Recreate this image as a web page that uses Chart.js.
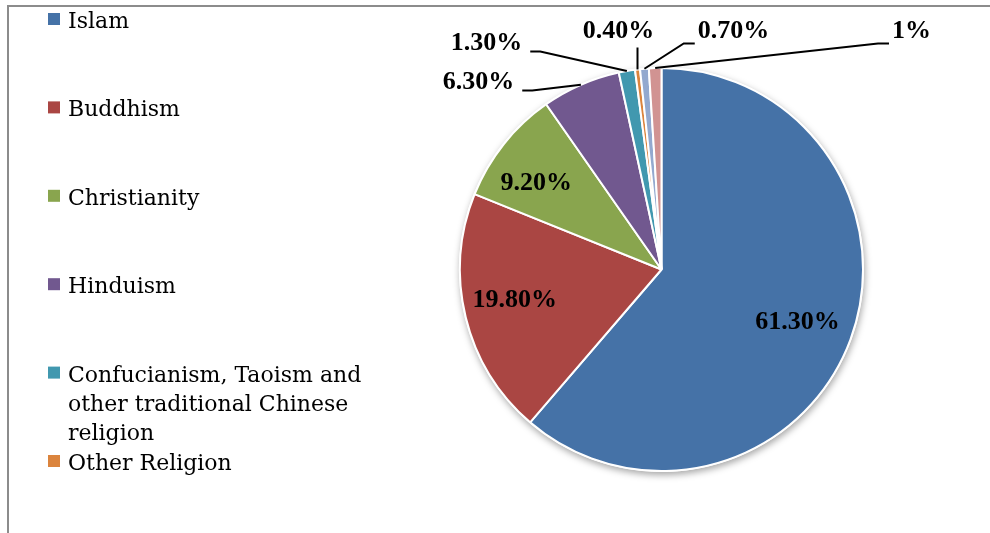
<!DOCTYPE html>
<html lang="en">
<head>
  <meta charset="UTF-8">
  <title>Religions</title>
  <script src="https://cdn.jsdelivr.net/npm/chart.js@4.4.0/dist/chart.umd.min.js"></script>
  <style>
    html, body {
      margin: 0;
      padding: 0;
      background: #fff;
      overflow: hidden;
    }
    #religionChart {
      display: block;
    }
  </style>
</head>
<body>
  <canvas id="religionChart" width="990" height="533"></canvas>

  <script>
    // Share of population by religion (%)
    const categories = [
      'Islam',
      'Buddhism',
      'Christianity',
      'Hinduism',
      ['Confucianism, Taoism and', 'other traditional Chinese', 'religion'],
      'Other Religion',
      'No Religion',
      'Unknown'
    ];
    const shares = [61.3, 19.8, 9.2, 6.3, 1.3, 0.4, 0.7, 1];
    const colors = [
      '#4572A7', '#AA4643', '#89A54E', '#71588F',
      '#4198AF', '#DB843D', '#93A9CF', '#D19392'
    ];

    // Inside labels sit along the slice's mid angle; small ones go outside with a leader line
    const insideRadius = [0.72, 0.75, 0.75];
    const insideNudge = [[0, 2], [0, -5], [-7, 8]];
    // outside label centres relative to the pie centre
    const outsideLabels = [
      null, null, null,
      [-183, -187],
      [-175, -226],
      [-43, -238],
      [72, -238],
      [250, -238]
    ];

    const fmt = v => Number.isInteger(v) ? v + '%' : v.toFixed(2) + '%';

    const frame = {
      id: 'frame',
      beforeDraw(chart) {
        const ctx = chart.ctx;
        ctx.save();
        ctx.strokeStyle = '#8c8c8c';
        ctx.lineWidth = 2;
        ctx.beginPath();
        ctx.moveTo(8, chart.height + 5);
        ctx.lineTo(8, 6);
        ctx.lineTo(chart.width + 5, 6);
        ctx.stroke();
        ctx.restore();
      }
    };

    const pieShadow = {
      id: 'pieShadow',
      beforeDatasetsDraw(chart) {
        const arc = chart.getDatasetMeta(0).data[0];
        if (!arc) return;
        const ctx = chart.ctx;
        ctx.save();
        ctx.shadowColor = 'rgba(0,0,0,0.35)';
        ctx.shadowBlur = 7;
        ctx.shadowOffsetX = 1;
        ctx.shadowOffsetY = 3;
        ctx.fillStyle = '#fff';
        ctx.beginPath();
        ctx.arc(arc.x, arc.y, arc.outerRadius + 1, 0, Math.PI * 2);
        ctx.fill();
        ctx.restore();
      }
    };

    const sliceLabels = {
      id: 'sliceLabels',
      afterDatasetsDraw(chart) {
        const ctx = chart.ctx;
        const arcs = chart.getDatasetMeta(0).data;
        ctx.save();
        ctx.font = 'bold 26px "Liberation Serif", "Times New Roman", serif';
        ctx.fillStyle = '#000';
        ctx.strokeStyle = '#000';
        ctx.lineWidth = 2;
        ctx.textBaseline = 'middle';
        ctx.textAlign = 'center';
        arcs.forEach((arc, i) => {
          const text = fmt(shares[i]);
          const mid = (arc.startAngle + arc.endAngle) / 2;
          const r = arc.outerRadius;
          if (!outsideLabels[i]) {
            const f = insideRadius[i];
            const [nx, ny] = insideNudge[i];
            ctx.fillText(text, arc.x + Math.cos(mid) * r * f + nx, arc.y + Math.sin(mid) * r * f + ny);
            return;
          }
          const lx = arc.x + outsideLabels[i][0];
          const ly = arc.y + outsideLabels[i][1];
          ctx.fillText(text, lx, ly);
          const w = ctx.measureText(text).width;
          const tx = arc.x + Math.cos(mid) * r;
          const ty = arc.y + Math.sin(mid) * r;
          ctx.beginPath();
          if (Math.abs(tx - lx) < 30) {
            ctx.moveTo(tx, ly + 16);
            ctx.lineTo(tx, ty);
          } else if (tx > lx) {
            const sx = lx + w / 2 + 8;
            ctx.moveTo(sx, ly + 8);
            ctx.lineTo(sx + 10, ly + 8);
            ctx.lineTo(tx, ty);
          } else {
            const sx = lx - w / 2 - 3;
            ctx.moveTo(sx, ly + 12);
            ctx.lineTo(sx - 11, ly + 12);
            ctx.lineTo(tx, ty);
          }
          ctx.stroke();
        });
        ctx.restore();
      }
    };

    // Legend column on the left; the list runs past the bottom edge
    const sideLegend = {
      id: 'sideLegend',
      afterDraw(chart) {
        const ctx = chart.ctx;
        ctx.save();
        ctx.font = '22px "DejaVu Serif", serif';
        ctx.textBaseline = 'alphabetic';
        ctx.textAlign = 'left';
        categories.forEach((label, i) => {
          const base = 28 + i * 88.4;
          ctx.fillStyle = colors[i];
          ctx.fillRect(48, base - 15, 12, 12);
          ctx.fillStyle = '#000';
          const lines = Array.isArray(label) ? label : [label];
          lines.forEach((line, k) => ctx.fillText(line, 68, base + k * 29));
        });
        ctx.restore();
      }
    };

    new Chart(document.getElementById('religionChart'), {
      type: 'pie',
      data: {
        labels: categories,
        datasets: [{
          data: shares,
          backgroundColor: colors,
          borderColor: '#fff',
          borderWidth: 2
        }]
      },
      options: {
        responsive: false,
        animation: false,
        events: [],
        layout: {
          padding: { left: 459, top: 67, right: 126, bottom: 61 }
        },
        plugins: {
          legend: { display: false },
          tooltip: { enabled: false }
        }
      },
      plugins: [frame, pieShadow, sliceLabels, sideLegend]
    });
  </script>
</body>
</html>
